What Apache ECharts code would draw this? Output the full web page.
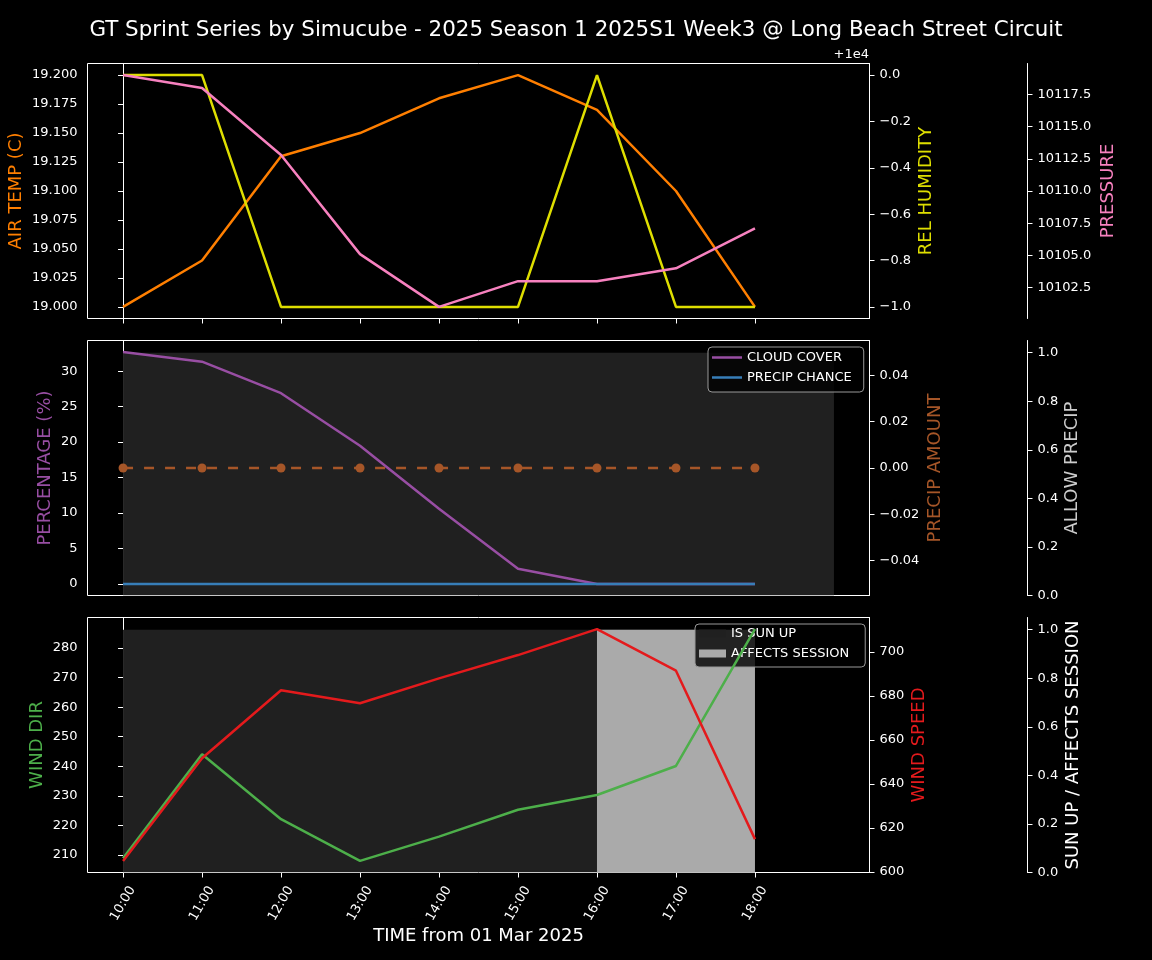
<!DOCTYPE html>
<html>
<head>
<meta charset="utf-8">
<script src="https://cdn.jsdelivr.net/npm/echarts@6/dist/echarts.min.js"></script>
<style>
  html, body { margin: 0; padding: 0; background: #000; }
  #chart { width: 1152px; height: 960px; }
</style>
</head>
<body>
<div id="chart"></div>
<script>
// ---------------- DATA ----------------
const hours = ['10:00', '11:00', '12:00', '13:00', '14:00', '15:00', '16:00', '17:00', '18:00', '19:00'];
const airTemp = [19.000, 19.040, 19.130, 19.150, 19.180, 19.200, 19.170, 19.100, 19.000];
const relHumidity = [10000, 10000, 9999, 9999, 9999, 9999, 10000, 9999, 9999];
const pressure = [10119.0, 10118.0, 10112.8, 10105.1, 10101.0, 10103.0, 10103.0, 10104.0, 10107.1];
const cloudCover = [32.7, 31.35, 26.9, 19.5, 10.6, 2.15, 0, 0, 0];
const precipChance = [0, 0, 0, 0, 0, 0, 0, 0, 0];
const precipAmount = [0, 0, 0, 0, 0, 0, 0, 0, 0];
const windDir = [208.9, 244.1, 222.1, 208.0, 216.2, 225.3, 230.3, 240.1, 286.4];
const windSpeed = [605.0, 651.6, 682.5, 676.6, 687.9, 698.5, 710.3, 691.4, 614.9];
// shaded spans (start, end) and their value on the 0..1 axes
const sunUpSpanPrecipPanel = ['10:00', '19:00'];
const sunUpSpanWindPanel = ['10:00', '18:00'];
const affectsSessionSpan = ['16:00', '18:00'];
const flagValue = 1;

// tick labels
const xTicks = ['10:00', '11:00', '12:00', '13:00', '14:00', '15:00', '16:00', '17:00', '18:00'];
const airTempTicks = [19.000, 19.025, 19.050, 19.075, 19.100, 19.125, 19.150, 19.175, 19.200];
const humidityTicks = [9999.0, 9999.2, 9999.4, 9999.6, 9999.8, 10000.0];
const pressureTicks = [10102.5, 10105.0, 10107.5, 10110.0, 10112.5, 10115.0, 10117.5];
const percentTicks = [0, 5, 10, 15, 20, 25, 30];
const precipAmountTicks = [-0.04, -0.02, 0, 0.02, 0.04];
const unitTicks = [0, 0.2, 0.4, 0.6, 0.8, 1.0];
const windDirTicks = [210, 220, 230, 240, 250, 260, 270, 280];
const windSpeedTicks = [600, 620, 640, 660, 680, 700];

// ---------------- HELPERS ----------------
const hIdx = h => hours.indexOf(h);
const pts = arr => arr.map((v, i) => [i, v]);
function padRange(...arrs) {
  const all = [].concat(...arrs);
  const mn = Math.min(...all), mx = Math.max(...all);
  const r = mx - mn;
  if (r === 0) return [mn - 0.055, mx + 0.055];
  return [mn - 0.05 * r, mx + 0.05 * r];
}
const fmt = (v, d) => v.toFixed(d).replace('-', '\u2212');
const xRange = [-0.45, (xTicks.length - 1) + 1 + 0.45]; // data spans 10:00..19:00

const FONT = 'DejaVu Sans';
const WHITE = '#ffffff';
const LW = 2.5;
const GRID_LEFT = 87.5, GRID_W = 782;
const grids = [
  { left: GRID_LEFT, width: GRID_W, top: 63.5, height: 255 },
  { left: GRID_LEFT, width: GRID_W, top: 340.5, height: 255 },
  { left: GRID_LEFT, width: GRID_W, top: 617.5, height: 255 }
].map(g => Object.assign(g, { show: true, borderColor: WHITE, borderWidth: 1, backgroundColor: 'transparent', containLabel: false, outerBoundsMode: 'none' }));

const tickVals = xTicks.map(hIdx);
function makeX(gridIndex, showLabels) {
  return {
    type: 'value', gridIndex, min: xRange[0], max: xRange[1],
    axisLine: { show: false },
    splitLine: { show: false },
    axisTick: { show: true, customValues: tickVals, length: 5, lineStyle: { color: WHITE, width: 1 } },
    axisLabel: {
      show: showLabels, customValues: tickVals, rotate: 60, align: 'center', verticalAlign: 'middle',
      margin: 31, color: WHITE, fontSize: 13, fontFamily: FONT,
      formatter: v => hours[Math.round(v)]
    },
    name: showLabels ? 'TIME from 01 Mar 2025' : '',
    nameLocation: 'middle', nameGap: 55, nameMoveOverlap: false,
    nameTextStyle: { color: WHITE, fontSize: 18, fontFamily: FONT }
  };
}

function makeY(o) {
  return {
    type: 'value', gridIndex: o.grid, position: o.pos, offset: o.offset || 0,
    min: o.range[0], max: o.range[1], scale: true,
    axisLine: { show: true, lineStyle: { color: WHITE, width: 1 } },
    splitLine: { show: false },
    axisTick: { show: true, customValues: o.ticks, length: 5, lineStyle: { color: WHITE, width: 1 } },
    axisLabel: { customValues: o.ticks, color: WHITE, fontSize: 13, fontFamily: FONT, margin: 10, formatter: o.fmt },
    name: o.name, nameLocation: 'middle', nameGap: o.gap, nameRotate: 90, nameMoveOverlap: false,
    nameTextStyle: { color: o.color, fontSize: 18, fontFamily: FONT }
  };
}

const yAxes = [
  makeY({ grid: 0, pos: 'left', range: padRange(airTemp), ticks: airTempTicks, fmt: v => fmt(v, 3), name: 'AIR TEMP (C)', gap: 62, color: '#ff7f00' }),
  makeY({ grid: 0, pos: 'right', range: padRange(relHumidity), ticks: humidityTicks, fmt: v => fmt(v - 10000, 1), name: 'REL HUMIDITY', gap: 48, color: '#dede00' }),
  makeY({ grid: 0, pos: 'right', offset: 158, range: padRange(pressure), ticks: pressureTicks, fmt: v => fmt(v, 1), name: 'PRESSURE', gap: 72, color: '#f781bf' }),
  makeY({ grid: 1, pos: 'left', range: padRange(cloudCover, precipChance), ticks: percentTicks, fmt: v => fmt(v, 0), name: 'PERCENTAGE (%)', gap: 33, color: '#984ea3' }),
  makeY({ grid: 1, pos: 'right', range: padRange(precipAmount), ticks: precipAmountTicks, fmt: v => fmt(v, 2), name: 'PRECIP AMOUNT', gap: 57, color: '#a65628' }),
  makeY({ grid: 1, pos: 'right', offset: 158, range: [0, 1.05], ticks: unitTicks, fmt: v => fmt(v, 1), name: 'ALLOW PRECIP', gap: 36, color: '#cccccc' }),
  makeY({ grid: 2, pos: 'left', range: padRange(windDir), ticks: windDirTicks, fmt: v => fmt(v, 0), name: 'WIND DIR', gap: 41, color: '#4daf4a' }),
  makeY({ grid: 2, pos: 'right', range: padRange(windSpeed), ticks: windSpeedTicks, fmt: v => fmt(v, 0), name: 'WIND SPEED', gap: 41, color: '#e41a1c' }),
  makeY({ grid: 2, pos: 'right', offset: 158, range: [0, 1.05], ticks: unitTicks, fmt: v => fmt(v, 1), name: 'SUN UP / AFFECTS SESSION', gap: 37, color: '#ffffff' })
];

function lineSeries(name, data, x, y, color, extra) {
  return Object.assign({
    name, type: 'line', xAxisIndex: x, yAxisIndex: y, data: pts(data),
    symbol: 'none', showSymbol: false, z: 3,
    lineStyle: { color, width: LW }, itemStyle: { color }
  }, extra || {});
}
function spanSeries(name, span, x, y, color, z) {
  return {
    name, type: 'line', xAxisIndex: x, yAxisIndex: y,
    data: [[hIdx(span[0]), flagValue], [hIdx(span[1]), flagValue]],
    symbol: 'none', showSymbol: false, silent: true, z,
    lineStyle: { width: 0, color }, itemStyle: { color },
    areaStyle: { color, opacity: 1 }
  };
}

const series = [
  lineSeries('AIR TEMP', airTemp, 0, 0, '#ff7f00'),
  lineSeries('REL HUMIDITY', relHumidity, 0, 1, '#dede00'),
  lineSeries('PRESSURE', pressure, 0, 2, '#f781bf'),

  spanSeries('IS SUN UP (precip)', sunUpSpanPrecipPanel, 1, 5, '#202020', 1),
  lineSeries('CLOUD COVER', cloudCover, 1, 3, '#984ea3'),
  lineSeries('PRECIP CHANCE', precipChance, 1, 3, '#377eb8'),
  lineSeries('PRECIP AMOUNT', precipAmount, 1, 4, '#a65628', {
    symbol: 'circle', showSymbol: true, symbolSize: 9,
    lineStyle: { color: '#a65628', width: LW, type: [10, 11] }
  }),

  spanSeries('IS SUN UP', sunUpSpanWindPanel, 2, 8, '#202020', 1),
  spanSeries('AFFECTS SESSION', affectsSessionSpan, 2, 8, '#aaaaaa', 1.1),
  lineSeries('WIND DIR', windDir, 2, 6, '#4daf4a'),
  lineSeries('WIND SPEED', windSpeed, 2, 7, '#e41a1c')
];

const legendCommon = {
  orient: 'vertical', selectedMode: false,
  backgroundColor: 'rgba(0,0,0,0.8)', borderColor: '#999999', borderWidth: 1, borderRadius: 4,
  textStyle: { color: WHITE, fontSize: 13, fontFamily: FONT }
};

const option = {
  backgroundColor: '#000000',
  animation: false,
  textStyle: { fontFamily: FONT },
  title: {
    text: 'GT Sprint Series by Simucube - 2025 Season 1 2025S1 Week3 @ Long Beach Street Circuit',
    left: 'center', top: 15,
    textStyle: { color: WHITE, fontSize: 21.4, fontWeight: 'normal', fontFamily: FONT }
  },
  grid: grids,
  xAxis: [makeX(0, false), makeX(1, false), makeX(2, true)],
  yAxis: yAxes,
  legend: [
    Object.assign({}, legendCommon, {
      data: [{ name: 'CLOUD COVER', icon: 'rect' }, { name: 'PRECIP CHANCE', icon: 'rect' }],
      left: 708, top: 347, itemWidth: 30, itemHeight: 2.5, itemGap: 7, padding: [4, 12, 8, 4]
    }),
    Object.assign({}, legendCommon, {
      data: [{ name: 'IS SUN UP', icon: 'rect' }, { name: 'AFFECTS SESSION', icon: 'rect' }],
      left: 695, top: 624, itemWidth: 27, itemHeight: 8, itemGap: 7, padding: [3, 16, 7, 4], z: 2
    })
  ],
  graphic: [
    { type: 'text', x: 869, y: 55, style: { text: '+1e4', fill: WHITE, font: '13px "DejaVu Sans"', textAlign: 'right', textVerticalAlign: 'middle' } }
  ],
  series
};

const chart = echarts.init(document.getElementById('chart'), null, { renderer: 'canvas' });
chart.setOption(option);
</script>
</body>
</html>
